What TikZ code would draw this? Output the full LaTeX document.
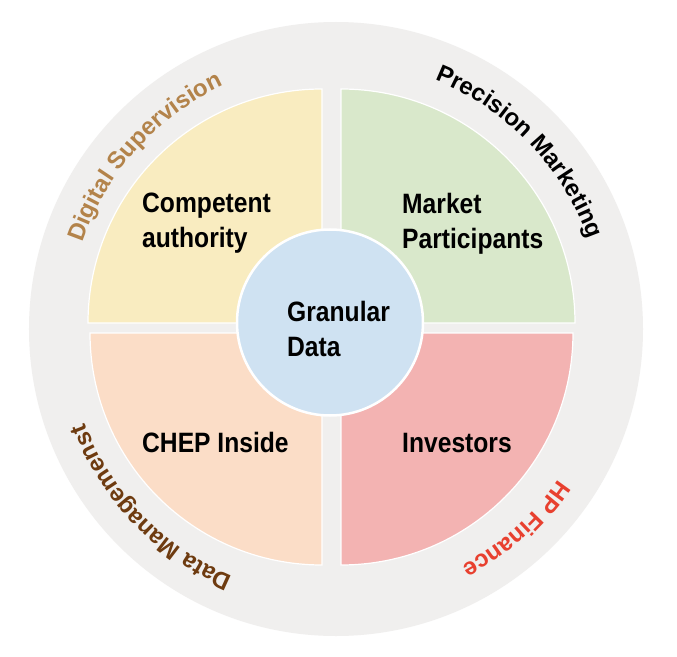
\documentclass[tikz,border=0pt]{standalone}
\usepackage{fontspec}
\setmainfont{Liberation Sans}
\newfontfamily\narrowfont{Liberation Sans}[FakeStretch=0.88]
\usetikzlibrary{decorations.text}
\definecolor{ringGrey}{RGB}{240,239,238}
\definecolor{authYellow}{RGB}{249,236,192}
\definecolor{marketGreen}{RGB}{217,232,203}
\definecolor{chepPeach}{RGB}{251,221,199}
\definecolor{investPink}{RGB}{243,179,178}
\definecolor{dataBlue}{RGB}{207,226,242}
\definecolor{supTan}{RGB}{179,131,74}
\definecolor{mgmtBrown}{RGB}{110,59,16}
\definecolor{finRed}{RGB}{232,64,47}
\newcommand\ringfont{\bfseries\fontsize{24}{28}\selectfont}

\begin{document}
\begin{tikzpicture}[x=1pt, y=1pt,
  quarter/.style={draw=white, line width=1.2pt},
  qlabel/.style={font=\narrowfont\bfseries\fontsize{28}{35}\selectfont, align=left,
                 anchor=base west, inner sep=0pt},
  ringtext/.style={decorate, decoration={text along path, text align=center, text color=#1}}
]
  \useasboundingbox[fill=white] (-336,-327) rectangle (341,329);
  \fill[ringGrey] (0,0) circle[radius=307];

  % four quarters
  \path[quarter, fill=authYellow]  (-14,6)  -- ++(180:234) arc[start angle=180, end angle=90,  radius=234] -- cycle;
  \path[quarter, fill=marketGreen] (5,6)    -- ++(90:234)  arc[start angle=90,  end angle=0,   radius=234] -- cycle;
  \path[quarter, fill=chepPeach]   (-14,-4) -- ++(270:232) arc[start angle=270, end angle=180, radius=232] -- cycle;
  \path[quarter, fill=investPink]  (5,-4)   -- ++(0:232)   arc[start angle=0,   end angle=-90, radius=232] -- cycle;

  % centre
  \node[circle, draw=white, line width=2.5pt, fill=dataBlue, minimum size=186pt, inner sep=0pt]
    (granular) at (-6,6.5) {};
  \node[qlabel] (granulartext) at (-49,-27)  {Granular\\Data};
  \node[qlabel] (competent)    at (-194,82)  {Competent\\authority};
  \node[qlabel] (market)       at (66,81)    {Market\\Participants};
  \node[qlabel] (chep)         at (-194,-123) {CHEP Inside};
  \node[qlabel] (investors)    at (66,-123)  {Investors};

  % ring labels
  \path[ringtext=supTan, decoration={text={|\ringfont|Digital Supervision}}]
    (178:268) arc[start angle=178, end angle=98, radius=268];
  \path[ringtext=black, decoration={text={|\ringfont|Precision Marketing}}]
    (84:268) arc[start angle=84, end angle=4, radius=268];
  \path[ringtext=mgmtBrown, decoration={text={|\ringfont|Data Managemenst}}]
    (264:268) arc[start angle=264, end angle=184, radius=268];
  \path[ringtext=finRed, decoration={text={|\ringfont|HP Finance}}]
    (352:268) arc[start angle=352, end angle=272, radius=268];
\end{tikzpicture}
\end{document}
